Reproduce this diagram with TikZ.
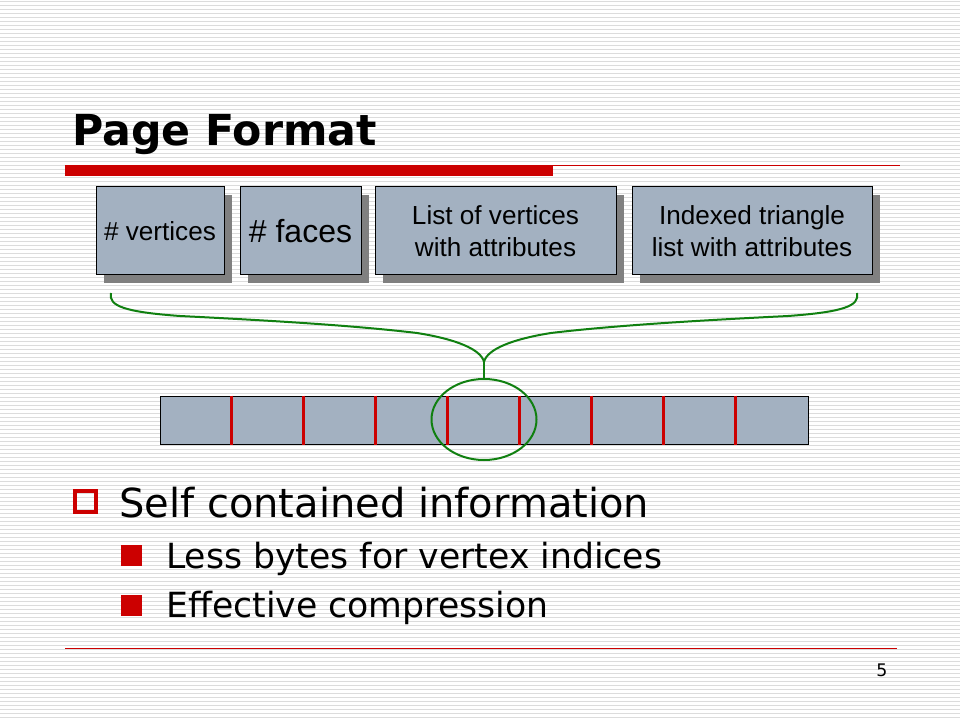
\documentclass[tikz,border=0pt]{standalone}
\usepackage{fontspec}
\setmainfont{DejaVu Sans}
\newfontfamily\boxfont{Liberation Sans}
\usetikzlibrary{calc,shadows,shapes.geometric}
\definecolor{slidered}{RGB}{204,0,0}
\definecolor{boxgray}{RGB}{163,177,193}
\definecolor{bracegreen}{RGB}{16,128,16}
\definecolor{stripegray}{RGB}{220,220,220}

\begin{document}
\begin{tikzpicture}[x=0.75pt, y=-0.75pt,
		field/.style={draw=black, line width=0.75pt, fill=boxgray, inner sep=0pt, align=center,
			font=\boxfont\fontsize{19.6}{23.5}\selectfont,
			general shadow={fill=black!50, shadow xshift=6pt, shadow yshift=-6pt}},
		cellrow/.style={draw=black, line width=0.75pt, fill=boxgray, inner sep=0pt,
			minimum width=486pt, minimum height=36pt},
		divider/.style={draw=slidered, line width=1.8pt},
		brace/.style={draw=bracegreen, line width=1.5pt},
		bullettext/.style={anchor=base west, inner sep=0pt}]
		%%%%% START %%%%%
		
		\useasboundingbox (0, 0) rectangle (960, 720);
		\fill[white] (0, 0) rectangle (960, 720);
		\foreach \y in {0, 4, ..., 716}
			\draw[stripegray, line width=0.75pt] (0, {\y+1.5}) -- (960, {\y+1.5});
		
		% title and rules
		\node[bullettext, font=\bfseries\fontsize{32}{38}\selectfont] (title) at (72, 146) {Page Format};
		\fill[slidered] (65, 165) rectangle (553, 176);
		\draw[slidered, line width=0.75pt] (553, 165.5) -- (900, 165.5);
		\draw[slidered, line width=0.75pt] (65, 648) -- (897, 648);
		
		% page layout
		\node[field, minimum width=96pt, minimum height=66pt] (nverts) at (160, 231) {\# vertices};
		\node[field, minimum width=90.75pt, minimum height=66pt, font=\boxfont\fontsize{24}{28}\selectfont] (nfaces) at (300.5, 231) {\# faces};
		\node[field, minimum width=180.75pt, minimum height=66pt] (vlist) at (495.5, 231) {List of vertices\\ with attributes};
		\node[field, minimum width=180pt, minimum height=66pt] (tlist) at (752, 231) {Indexed triangle\\ list with attributes};
		
		% pages
		\node[cellrow] (pages) at (484, 420) {};
		\foreach \i in {1, ..., 8}
			\draw[divider] ([xshift=\i*54pt]pages.north west) -- ([xshift=\i*54pt]pages.south west);
		\node[draw=bracegreen, line width=1.5pt, ellipse, inner sep=0pt, minimum width=78.75pt, minimum height=60.75pt] (page) at (484, 419.5) {};
		
		% brace
		\coordinate (braceL) at (111, 293);
		\coordinate (braceR) at (857, 293);
		\coordinate (tip) at (484, 362);
		\draw[brace] (braceL) .. controls (108, 306) and (125, 312) .. (180, 316)
			.. controls (260, 320) and (350, 325) .. (417, 333)
			.. controls (455, 339) and (481, 349) .. (tip);
		\draw[brace] (braceR) .. controls (860, 306) and (843, 312) .. (788, 316)
			.. controls (708, 320) and (618, 325) .. (551, 333)
			.. controls (513, 339) and (487, 349) .. (tip);
		\draw[brace] (tip) -- (page.north);
		
		% bullets
		\draw[slidered, line width=3pt] (75, 491) rectangle (96, 512);
		\node[bullettext, font=\fontsize{30}{36}\selectfont] (self) at (119, 517) {Self contained information};
		\fill[slidered] (121, 545) rectangle (142, 566);
		\node[bullettext, font=\fontsize{26}{31}\selectfont] (bytes) at (166, 568) {Less bytes for vertex indices};
		\fill[slidered] (121, 595) rectangle (142, 616);
		\node[bullettext, font=\fontsize{26}{31}\selectfont] (compr) at (166, 617) {Effective compression};
		
		\node[font=\fontsize{13}{15}\selectfont] (pageno) at (882, 670) {5};
		
		%%%%% END %%%%%
\end{tikzpicture}
\end{document}
